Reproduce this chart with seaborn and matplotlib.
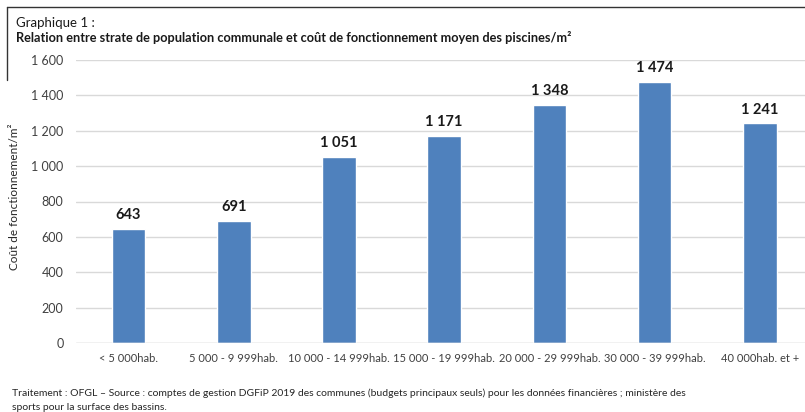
import matplotlib
matplotlib.use("Agg")
import matplotlib.pyplot as plt
import seaborn as sns
import pandas as pd
from matplotlib.ticker import FuncFormatter
from matplotlib.lines import Line2D

strates = ["< 5 000hab.", "5 000 - 9 999hab.", "10 000 - 14 999hab.", "15 000 - 19 999hab.",
           "20 000 - 29 999hab.", "30 000 - 39 999hab.", "40 000hab. et +"]
cout = [643, 691, 1051, 1171, 1348, 1474, 1241]

df = pd.DataFrame({"strate": strates, "cout": cout})

sns.set_theme(style="white")
plt.rcParams["font.family"] = ["Lato", "Liberation Sans", "DejaVu Sans"]

def sep(v, pos=None):
    return f"{int(v):,}".replace(",", " ")

fig = plt.figure(figsize=(8.05, 4.12), dpi=100)
ax = fig.add_axes([76 / 805, 1 - 343 / 412, 1 - 76 / 805, 283 / 412])

sns.barplot(data=df, x="strate", y="cout", color="#4F81BD", saturation=1, width=0.32, ax=ax)

ax.set_ylim(0, 1600)
ax.set_xlim(-0.5, 6.43)
ax.set_yticks(range(0, 1601, 200))
ax.yaxis.set_major_formatter(FuncFormatter(sep))
ax.yaxis.grid(True, color="#d9d9d9", linewidth=1)
ax.set_axisbelow(True)
for s in ax.spines.values():
    s.set_visible(False)
ax.axhline(0, color="#d9d9d9", linewidth=1)
ax.tick_params(axis="both", length=0, labelsize=9, colors="#404040")
ax.tick_params(axis="x", pad=7, labelsize=8)
ax.tick_params(axis="y", pad=9)
ax.set_xlabel("")
ax.set_ylabel("")
fig.text(15 / 805, 1 - 197 / 412, "Coût de fonctionnement/m²", rotation=90,
         fontsize=8.5, color="#262626", ha="center", va="center")

ax.bar_label(ax.containers[0], labels=[sep(v) for v in cout], padding=5,
             fontsize=10.5, fontweight="bold", color="#1a1a1a")

fig.text(16 / 805, 1 - 23 / 412, "Graphique 1 :", fontsize=9.5, va="center", color="#1a1a1a")
fig.text(16 / 805, 1 - 37 / 412,
         "Relation entre strate de population communale et coût de fonctionnement moyen des piscines/m²",
         fontsize=9.2, fontweight="bold", va="center", color="#1a1a1a")
fig.text(12 / 805, 1 - 393 / 412,
         "Traitement : OFGL – Source : comptes de gestion DGFiP 2019 des communes (budgets principaux seuls) pour les données financières ; ministère des",
         fontsize=7.5, va="center", color="#262626")
fig.text(12 / 805, 1 - 407 / 412, "sports pour la surface des bassins.",
         fontsize=7.5, va="center", color="#262626")

# cadre partiel du graphique
fig.add_artist(Line2D([7 / 805, 1], [1 - 7 / 412, 1 - 7 / 412], color="#333333", linewidth=1))
fig.add_artist(Line2D([7 / 805, 7 / 805], [1 - 7 / 412, 1 - 80 / 412], color="#333333", linewidth=1))

fig.savefig("out.png", dpi=100)
